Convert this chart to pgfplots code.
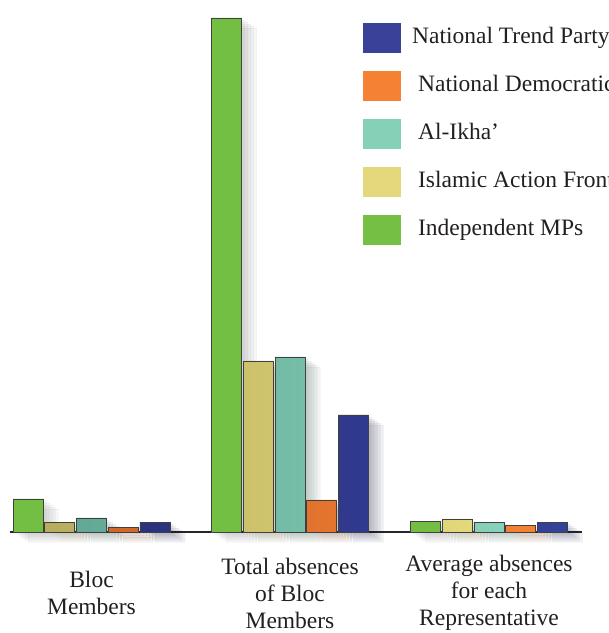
\documentclass[border=0pt]{standalone}
\usepackage{pgfplots}
\pgfplotsset{compat=1.18}
\usepackage{fontspec}
\setmainfont{Liberation Serif}
\definecolor{cgreen}{HTML}{72BF44}
\definecolor{cyellowL}{HTML}{B8AD5E}
\definecolor{cyellowR}{HTML}{E4D87C}
\definecolor{ctealL}{HTML}{63A894}
\definecolor{ctealR}{HTML}{88D1BB}
\definecolor{corangeL}{HTML}{D0662A}
\definecolor{corangeR}{HTML}{F58233}
\definecolor{cblue}{HTML}{36419A}
\definecolor{cblueD}{HTML}{2A3280}
\definecolor{ctext}{HTML}{231F20}
\definecolor{lgreen}{HTML}{74BF44}
\definecolor{lyellow}{HTML}{E4D87C}
\definecolor{lteal}{HTML}{87D0B8}
\definecolor{lorange}{HTML}{F58233}
\definecolor{lblue}{HTML}{3A4199}
\tikzset{softshadow/.style={
  preaction={fill=black, opacity=0.035, transform canvas={xshift=3bp, yshift=-2bp}},
  preaction={fill=black, opacity=0.035, transform canvas={xshift=6bp, yshift=-4bp}},
  preaction={fill=black, opacity=0.035, transform canvas={xshift=9bp, yshift=-6bp}},
  preaction={fill=black, opacity=0.035, transform canvas={xshift=12bp, yshift=-8bp}},
  preaction={fill=black, opacity=0.035, transform canvas={xshift=15bp, yshift=-10bp}}}}
\begin{document}
\begin{tikzpicture}[x=1bp,y=1bp]
\useasboundingbox (0,-101) rectangle (609,532);
\begin{axis}[
  at={(10bp,0bp)}, anchor=south west,
  scale only axis, width=572bp, height=532bp,
  xmin=10, xmax=582, ymin=0, ymax=532,
  axis x line=bottom, axis y line=none,
  axis line style={-, line width=1.6bp, black!85},
  ytick=\empty,
  xtick={91.5,290,489},
  xticklabels={{Bloc\\Members},{Total absences\\of Bloc\\Members},{Average absences\\for each\\Representative}},
  major tick length=0pt,
  xticklabel style={font=\fontsize{23.5bp}{27bp}\selectfont, align=center, anchor=center, yshift=-61bp, text=ctext},
  clip=false,
  bar width=30bp,
  every axis plot/.append style={draw=black!75, line width=0.8bp},
  reverse legend,
  legend cell align=left,
  legend image code/.code={\fill[#1, draw=none] (0bp,-15bp) rectangle (38bp,15bp);},
  legend style={at={(0.617,0.958)}, anchor=north west, draw=none, fill=none,
    font=\fontsize{23.5bp}{27bp}\selectfont, text=ctext,
    row sep=18bp, inner sep=0pt,
    nodes={inner xsep=0bp, inner ysep=0bp, text height=16bp, text depth=5bp}},
]
\addplot[ybar, bar shift=-63.4bp, fill=cgreen, softshadow, forget plot] coordinates {(91.5,33) (290,514) (489,11)};
\addplot[ybar, bar shift=-31.7bp, left color=cyellowL, right color=cyellowR, softshadow, forget plot] coordinates {(91.5,10) (290,171) (489,13)};
\addplot[ybar, bar shift=0bp, left color=ctealL, right color=ctealR, softshadow, forget plot] coordinates {(91.5,14) (290,175) (489,10)};
\addplot[ybar, bar shift=31.7bp, left color=corangeL, right color=corangeR, softshadow, forget plot] coordinates {(91.5,5) (290,32) (489,7)};
\addplot[ybar, bar shift=63.4bp, left color=cblueD, right color=cblue, softshadow, forget plot] coordinates {(91.5,10) (290,117) (489,10)};
\addlegendimage{fill=lgreen}
\addlegendimage{fill=lyellow}
\addlegendimage{fill=lteal}
\addlegendimage{fill=lorange}
\addlegendimage{fill=lblue}
\legend{\hspace{17bp}Independent MPs, \hspace{17bp}Islamic Action Front, \hspace{17bp}Al-Ikha’, \hspace{17bp}National Democratic Party, \hspace{11bp}National Trend Party}
\end{axis}
\end{tikzpicture}
\end{document}
